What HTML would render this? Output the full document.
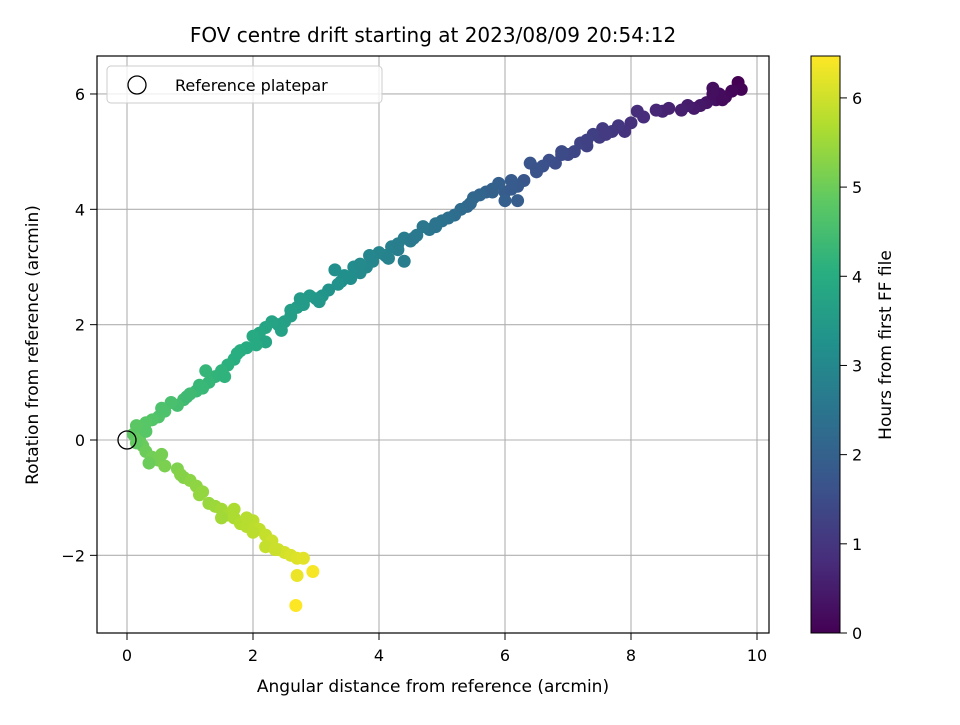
<!DOCTYPE html>
<html><head><meta charset="utf-8"><style>
body{margin:0;background:#fff}
svg text{font-family:"DejaVu Sans","Liberation Sans",sans-serif;fill:#000}
</style></head><body>
<svg id="chart" width="960" height="720" viewBox="0 0 960 720" xmlns="http://www.w3.org/2000/svg">
<defs>
<linearGradient id="vir" x1="0" y1="1" x2="0" y2="0">
<stop offset="0" stop-color="#440154"/><stop offset="0.125" stop-color="#472d7b"/><stop offset="0.25" stop-color="#3b528b"/><stop offset="0.375" stop-color="#2c728e"/><stop offset="0.5" stop-color="#21918c"/><stop offset="0.625" stop-color="#28ae80"/><stop offset="0.75" stop-color="#5ec962"/><stop offset="0.875" stop-color="#addc30"/><stop offset="1" stop-color="#fde725"/>
</linearGradient>
<clipPath id="plotclip"><rect x="97" y="56" width="672" height="577"/></clipPath>
</defs>
<text x="433" y="42" font-size="20" text-anchor="middle">FOV centre drift starting at 2023/08/09 20:54:12</text>
<g id="grid"></g>
<g id="points" clip-path="url(#plotclip)"></g>
<rect x="97" y="56" width="672" height="577" fill="none" stroke="#000" stroke-width="1.2"/>
<g id="axes"></g>
<text x="433" y="692" font-size="17" text-anchor="middle">Angular distance from reference (arcmin)</text>
<text transform="translate(38,345) rotate(-90)" font-size="17" text-anchor="middle">Rotation from reference (arcmin)</text>
<g>
<rect x="107" y="66" width="275" height="37" rx="4" fill="#fff" fill-opacity="0.8" stroke="#ccc"/>
<circle cx="137" cy="85" r="9" fill="none" stroke="#000" stroke-width="1.3"/>
<text x="175" y="91" font-size="16">Reference platepar</text>
</g>
<rect x="811" y="56" width="29" height="577" fill="url(#vir)" stroke="#000" stroke-width="1"/>
<g id="cbar"></g>
<text transform="translate(891,345) rotate(-90)" font-size="17" text-anchor="middle">Hours from first FF file</text>
</svg>
<script>
const xs=[9.7,9.75,9.6,9.5,9.4,9.3,9.35,9.2,9.1,9.0,8.9,8.8,8.5,8.4,8.2,8.1,8.0,7.9,7.8,7.7,7.55,7.5,7.4,7.3,7.2,7.1,7.0,6.9,6.8,6.7,6.6,6.5,6.4,6.3,6.2,6.1,6.0,5.9,6.2,6.0,5.8,5.7,5.6,5.5,5.4,5.3,5.2,5.1,5.0,4.9,4.8,4.7,4.6,4.5,4.4,4.3,4.2,4.1,4.0,4.4,3.9,3.8,3.7,3.6,3.55,3.4,3.3,3.2,3.1,3.0,2.9,2.8,2.7,2.6,2.5,2.4,2.3,2.2,2.1,2.0,1.9,1.8,1.7,1.6,1.5,1.4,1.3,1.2,1.1,1.0,0.9,0.8,0.7,0.6,0.5,0.4,0.3,0.2,0.1,0.2,0.25,0.3,0.4,0.5,0.6,0.8,0.9,1.0,1.1,1.2,1.3,1.4,1.5,1.6,1.7,1.8,1.9,2.0,2.1,2.2,2.3,2.4,2.5,2.6,2.7,2.8,2.7,2.95,2.68,
9.3,9.45,8.6,7.6,7.3,6.9,6.5,6.1,5.8,5.45,4.9,4.55,4.3,4.15,3.85,3.7,3.45,3.35,3.05,2.75,2.6,2.45,2.2,2.05,1.75,1.55,1.25,1.15,0.95,0.55,0.3,0.15,0.15,0.35,0.55,0.85,1.15,1.5,1.7,1.9,2.0,2.2,2.35];
const ys=[6.2,6.08,6.05,5.95,6.0,6.1,5.9,5.85,5.8,5.75,5.8,5.72,5.7,5.72,5.6,5.7,5.5,5.35,5.45,5.35,5.4,5.25,5.3,5.1,5.15,5.0,4.95,5.0,4.8,4.85,4.75,4.65,4.8,4.5,4.4,4.5,4.3,4.45,4.15,4.15,4.3,4.3,4.25,4.2,4.05,4.0,3.9,3.85,3.8,3.75,3.65,3.7,3.55,3.45,3.5,3.3,3.35,3.2,3.25,3.1,3.1,3.0,2.9,3.0,2.8,2.75,2.95,2.6,2.5,2.45,2.5,2.35,2.3,2.15,2.05,2.0,2.05,1.95,1.85,1.8,1.6,1.55,1.4,1.3,1.2,1.1,1.0,0.9,0.85,0.8,0.7,0.6,0.65,0.5,0.4,0.35,0.3,0.2,0.1,0.0,-0.1,-0.2,-0.3,-0.35,-0.45,-0.5,-0.65,-0.7,-0.8,-0.9,-1.1,-1.15,-1.2,-1.3,-1.35,-1.45,-1.5,-1.4,-1.55,-1.65,-1.75,-1.9,-1.95,-2.0,-2.05,-2.05,-2.35,-2.28,-2.87,
6.0,5.9,5.75,5.3,5.2,4.95,4.7,4.35,4.35,4.1,3.7,3.5,3.4,3.15,3.2,3.05,2.85,2.7,2.4,2.45,2.25,1.9,1.7,1.65,1.5,1.1,1.2,0.95,0.75,0.55,0.15,0.25,-0.05,-0.4,-0.25,-0.6,-0.95,-1.35,-1.2,-1.35,-1.6,-1.85,-1.9];
const hours=[0.0,0.05,0.1,0.15,0.2,0.25,0.3,0.35,0.4,0.45,0.5,0.55,0.65,0.7,0.8,0.82,0.9,0.95,1.0,1.05,1.1,1.15,1.2,1.25,1.3,1.35,1.4,1.45,1.5,1.55,1.6,1.65,1.7,1.75,1.8,1.85,1.9,1.95,1.9,1.95,2.0,2.05,2.1,2.15,2.2,2.25,2.3,2.35,2.4,2.45,2.5,2.55,2.6,2.65,2.7,2.75,2.8,2.85,2.9,2.75,2.95,3.0,3.05,3.1,3.15,3.2,3.2,3.3,3.35,3.4,3.45,3.5,3.55,3.6,3.65,3.7,3.75,3.8,3.85,3.9,3.95,4.0,4.05,4.1,4.15,4.2,4.25,4.3,4.35,4.4,4.45,4.5,4.55,4.6,4.65,4.7,4.75,4.8,4.85,4.9,4.95,5.0,5.05,5.1,5.15,5.2,5.25,5.3,5.35,5.4,5.45,5.5,5.55,5.6,5.65,5.7,5.75,5.8,5.85,5.9,5.95,6.0,6.05,6.1,6.15,6.2,6.3,6.4,6.47,
0.25,0.2,0.6,1.1,1.25,1.45,1.65,1.85,2.0,2.2,2.45,2.6,2.75,2.85,2.95,3.05,3.2,3.25,3.4,3.5,3.6,3.7,3.8,3.9,4.05,4.15,4.25,4.3,4.4,4.6,4.75,4.8,4.9,5.0,5.1,5.25,5.4,5.55,5.65,5.75,5.8,5.9,5.95];
const xTicks=[0,2,4,6,8,10];
const yTicks=[-2,0,2,4,6];
const cTicks=[0,1,2,3,4,5,6];
const cMax=6.47;
const NS="http://www.w3.org/2000/svg";
const sx=v=>127+v*63, sy=v=>440-v*57.67, sc=v=>633-v*(577/cMax);
const stops=[[68,1,84],[71,45,123],[59,82,139],[44,114,142],[33,145,140],[40,174,128],[94,201,98],[173,220,48],[253,231,37]];
function vir(t){t=Math.max(0,Math.min(1,t))*8;const i=Math.min(7,Math.floor(t)),f=t-i;const a=stops[i],b=stops[i+1];return `rgb(${a.map((c,k)=>Math.round(c+(b[k]-c)*f)).join(',')})`;}
function mk(tag,attrs,parent,text){const e=document.createElementNS(NS,tag);for(const k in attrs)e.setAttribute(k,attrs[k]);if(text!==undefined)e.textContent=text;parent.appendChild(e);return e;}
const grid=document.getElementById('grid'),axes=document.getElementById('axes'),pts=document.getElementById('points'),cbar=document.getElementById('cbar');
xTicks.forEach(v=>{const x=sx(v);
 const g=mk('line',{x1:x,x2:x,y1:56,y2:633,stroke:'#b0b0b0','stroke-width':1.1},grid);
 
 
 const t=mk('line',{x1:x,x2:x,y1:633,y2:640,stroke:'#000'},axes);
 
 
 const l=mk('text',{x:x,y:661,'font-size':16,'text-anchor':'middle'},axes,String(v));
 
 
});
yTicks.forEach(v=>{const y=sy(v);
 const g=mk('line',{x1:97,x2:769,y1:y,y2:y,stroke:'#b0b0b0','stroke-width':1.1},grid);
 
 
 const t=mk('line',{x1:90,x2:97,y1:y,y2:y,stroke:'#000'},axes);
 
 
 const l=mk('text',{x:85,y:y+6,'font-size':16,'text-anchor':'end'},axes,v<0?'\u2212'+Math.abs(v):String(v));
 
 
});
cTicks.forEach(v=>{const y=sc(v);
 const t=mk('line',{x1:840,x2:847,y1:y,y2:y,stroke:'#000'},cbar);
 
 
 const l=mk('text',{x:852,y:y+6,'font-size':16},cbar,String(v));
 
 
});
xs.forEach((v,i)=>{
 const c=mk('circle',{cx:sx(v),cy:sy(ys[i]),r:6.5,fill:vir(hours[i]/cMax)},pts);
 
 
});
const ref=mk('circle',{cx:sx(0),cy:sy(0),r:9,fill:'none',stroke:'#000','stroke-width':1.3},pts);


</script>
</body></html>
